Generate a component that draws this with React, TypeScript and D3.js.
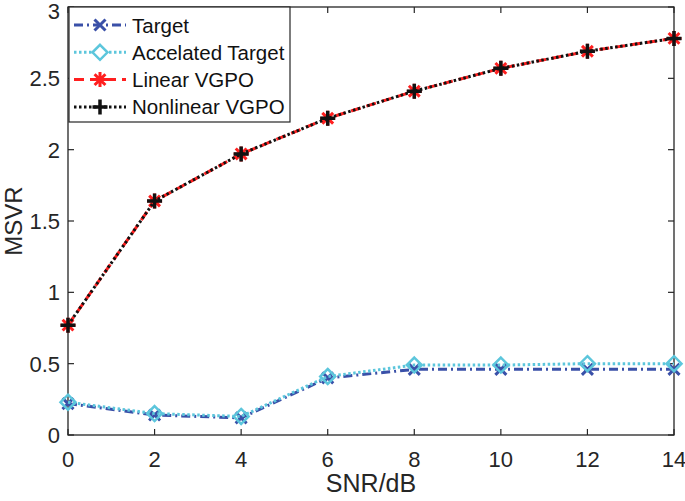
import * as d3 from "d3"

// SNR/dB values on the x axis
const snr = [0, 2, 4, 6, 8, 10, 12, 14]

// MSVR per method
const target = [0.22, 0.14, 0.12, 0.40, 0.46, 0.46, 0.46, 0.46]
const accelTarget = [0.23, 0.15, 0.13, 0.41, 0.49, 0.49, 0.50, 0.50]
const linearVGPO = [0.77, 1.64, 1.97, 2.22, 2.41, 2.57, 2.69, 2.78]
const nonlinearVGPO = [0.77, 1.64, 1.97, 2.22, 2.41, 2.57, 2.69, 2.78]

const xTicks = [0, 2, 4, 6, 8, 10, 12, 14]
const yTicks = [0, 0.5, 1, 1.5, 2, 2.5, 3]

const W = 685
const H = 501
const margin = { top: 7, right: 11, bottom: 66, left: 68 }

type Marker = "x" | "diamond" | "asterisk" | "plus"

interface Series {
  name: string
  values: number[]
  color: string
  dash: string
  marker: Marker
}

const series: Series[] = [
  { name: "Target", values: target, color: "#3a50a8", dash: "9 4 2 4", marker: "x" },
  { name: "Accelated Target", values: accelTarget, color: "#5cc6dc", dash: "2.5 2.5", marker: "diamond" },
  { name: "Linear VGPO", values: linearVGPO, color: "#ff1f1f", dash: "10 6", marker: "asterisk" },
  { name: "Nonlinear VGPO", values: nonlinearVGPO, color: "#111111", dash: "2.5 2.5", marker: "plus" },
]

const FONT = "'Liberation Sans', Arial, sans-serif"
const AXIS = "#262626"

function markerPath(m: Marker, s: number) {
  const h = s / 2
  if (m === "x") return `M${-h},${-h}L${h},${h}M${-h},${h}L${h},${-h}`
  if (m === "plus") return `M${-h},0L${h},0M0,${-h}L0,${h}`
  if (m === "diamond") return `M0,${-h}L${h},0L0,${h}L${-h},0Z`
  const d = h * 0.72
  return `M${-h},0L${h},0M0,${-h}L0,${h}M${-d},${-d}L${d},${d}M${-d},${d}L${d},${-d}`
}

function markerStyle(m: Marker) {
  if (m === "x") return { size: 11, width: 3 }
  if (m === "diamond") return { size: 15, width: 2.5 }
  if (m === "asterisk") return { size: 15, width: 3 }
  return { size: 15, width: 3.5 }
}

export default function App() {
  const x = d3.scaleLinear().domain([0, 14]).range([margin.left, W - margin.right])
  const y = d3.scaleLinear().domain([0, 3]).range([H - margin.bottom, margin.top])
  const x0 = x(0), x1 = x(14), y0 = y(0), y1 = y(3)
  const tick = 6

  const line = d3.line<number>()
    .x((_, i) => x(snr[i]))
    .y(d => y(d))

  // legend layout
  const lg = { x: x0 + 1, y: y1, w: 221, h: 115 }
  const rowY = (i: number) => lg.y + 18 + i * 27.3

  return (
    <div style={{ position: "fixed", left: 0, top: 0 }}>
      <svg width={W} height={H} style={{ display: "block", background: "#fff" }}>
        {/* box */}
        <rect x={x0} y={y1} width={x1 - x0} height={y0 - y1} fill="none" stroke={AXIS} strokeWidth={1.3} />

        {/* ticks */}
        {xTicks.map(t => (
          <g key={"xt" + t}>
            <line x1={x(t)} x2={x(t)} y1={y0} y2={y0 - tick} stroke={AXIS} strokeWidth={1.2} />
            <line x1={x(t)} x2={x(t)} y1={y1} y2={y1 + tick} stroke={AXIS} strokeWidth={1.2} />
            <text x={x(t)} y={y0 + 32} textAnchor="middle" fontFamily={FONT} fontSize={22} fill={AXIS}>{t}</text>
          </g>
        ))}
        {yTicks.map(t => (
          <g key={"yt" + t}>
            <line x1={x0} x2={x0 + tick} y1={y(t)} y2={y(t)} stroke={AXIS} strokeWidth={1.2} />
            <line x1={x1} x2={x1 - tick} y1={y(t)} y2={y(t)} stroke={AXIS} strokeWidth={1.2} />
            <text x={x0 - 8} y={Math.max(y(t) + 8, 19)} textAnchor="end" fontFamily={FONT} fontSize={22} fill={AXIS}>{t}</text>
          </g>
        ))}

        {/* axis labels */}
        <text x={(x0 + x1) / 2} y={H - 9} textAnchor="middle" fontFamily={FONT} fontSize={25} fill={AXIS}>SNR/dB</text>
        <text transform={`translate(22,${(y0 + y1) / 2}) rotate(-90)`} textAnchor="middle" fontFamily={FONT} fontSize={24} fill={AXIS}>MSVR</text>

        {/* series */}
        {series.map(s => {
          const ms = markerStyle(s.marker)
          return (
            <g key={s.name}>
              <path d={line(s.values) ?? ""} fill="none" stroke={s.color} strokeWidth={3} strokeDasharray={s.dash} />
              {s.values.map((v, i) => (
                <path key={i} d={markerPath(s.marker, ms.size)} transform={`translate(${x(snr[i])},${y(v)})`}
                  fill="none" stroke={s.color} strokeWidth={ms.width} />
              ))}
            </g>
          )
        })}

        {/* legend */}
        <rect x={lg.x} y={lg.y} width={lg.w} height={lg.h} fill="#fff" stroke={AXIS} strokeWidth={1.2} />
        {series.map((s, i) => {
          const ms = markerStyle(s.marker)
          const cy = rowY(i)
          return (
            <g key={"lg" + s.name}>
              <line x1={lg.x + 5} x2={lg.x + 57} y1={cy} y2={cy} stroke={s.color} strokeWidth={3} strokeDasharray={s.dash} />
              <path d={markerPath(s.marker, ms.size)} transform={`translate(${lg.x + 31},${cy})`} fill="#fff" stroke={s.color} strokeWidth={ms.width} />
              <text x={lg.x + 63} y={cy + 7.5} fontFamily={FONT} fontSize={20.5} fill="#111">{s.name}</text>
            </g>
          )
        })}
      </svg>
    </div>
  )
}
